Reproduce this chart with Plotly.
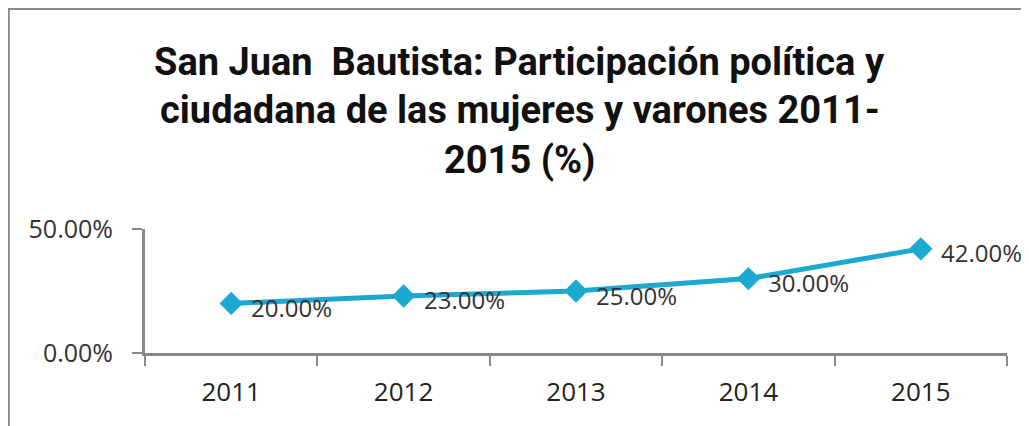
import plotly.graph_objects as go

years = ["2011", "2012", "2013", "2014", "2015"]
values = [0.20, 0.23, 0.25, 0.30, 0.42]
labels = ["20.00%", "23.00%", "25.00%", "30.00%", "42.00%"]
title_lines = [
    "San Juan  Bautista: Participación política y",
    "ciudadana de las mujeres y varones 2011-",
    "2015 (%)",
]
y_tickvals = [0, 0.5]
y_ticktext = ["0.00%", "50.00%"]

FONT = "Open Sans, DejaVu Sans, sans-serif"
TITLE_FONT = "Roboto, Open Sans, sans-serif"
BLUE = "#1ba8d1"
GRAY = "#8a8a8a"

fig = go.Figure()
fig.add_trace(go.Scatter(
    x=years, y=values, mode="lines+markers",
    line=dict(color=BLUE, width=5),
    marker=dict(symbol="diamond", size=18, color=BLUE),
    hoverinfo="skip", showlegend=False, cliponaxis=False,
))
for i, (yv, lab) in enumerate(zip(values, labels)):
    fig.add_annotation(x=i, y=yv, xref="x", yref="y", text=lab, showarrow=False,
                       xanchor="left", yanchor="middle", xshift=18, yshift=-4,
                       font=dict(family=FONT, size=24, color="#333333"))

# title lines (paper coords relative to plot area)
title_y = [2.347, 1.960, 1.556]
for line, ty in zip(title_lines, title_y):
    fig.add_annotation(x=0.435, y=ty, xref="paper", yref="paper", text="<b>" + line + "</b>",
                       showarrow=False, xanchor="center", yanchor="middle",
                       font=dict(family=TITLE_FONT, size=38, color="#111111"))

fig.update_layout(
    width=1029, height=426,
    margin=dict(l=137, r=30, t=221, b=81),
    paper_bgcolor="white", plot_bgcolor="white",
    xaxis=dict(type="category", tickson="boundaries", ticks="outside", ticklen=10,
               tickwidth=2, tickcolor=GRAY, showline=True, linecolor=GRAY, linewidth=3,
               showgrid=False, ticklabelstandoff=14,
               tickfont=dict(family=FONT, size=26, color="#222222"),
               range=[-0.5, 4.5]),
    yaxis=dict(range=[0, 0.5], tickvals=y_tickvals, ticktext=y_ticktext,
               ticks="outside", ticklen=10, tickwidth=2, tickcolor=GRAY, showline=True,
               linecolor=GRAY, linewidth=3, showgrid=True, gridcolor=GRAY,
               gridwidth=3, zeroline=False, ticklabelstandoff=14,
               tickfont=dict(family=FONT, size=25, color="#333333")),
    shapes=[dict(type="rect", xref="paper", yref="paper", x0=-0.158, x1=1.06,
                 y0=-0.8, y1=2.774, line=dict(color=GRAY, width=2),
                 fillcolor="rgba(0,0,0,0)", layer="below")],
)
fig.write_html("out.html")
